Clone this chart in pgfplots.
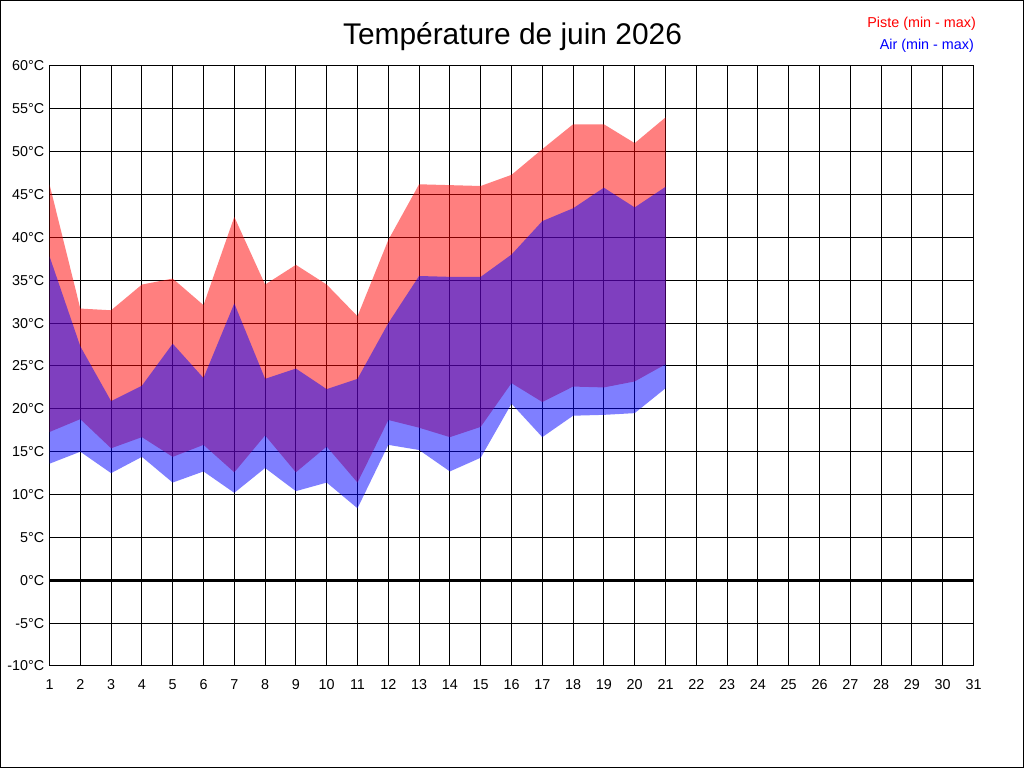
\documentclass[border=0pt]{standalone}
\usepackage{fontspec}
\setmainfont{Liberation Sans}
\usepackage{pgfplots}
\usepackage{pgfplotstable}
\pgfplotsset{compat=1.18}
\usepgfplotslibrary{fillbetween}

\pgfplotstableread{
day pmin pmax amin amax
1  17.3 46.2 13.6 37.8
2  18.8 31.7 15.0 27.3
3  15.4 31.5 12.5 20.9
4  16.7 34.5 14.4 22.7
5  14.4 35.2 11.4 27.6
6  15.8 32.1 12.7 23.6
7  12.6 42.4 10.2 32.3
8  16.9 34.5 13.1 23.5
9  12.6 36.8 10.4 24.7
10 15.6 34.5 11.4 22.3
11 11.4 30.8 8.4  23.5
12 18.7 39.7 15.8 30.0
13 17.8 46.2 15.2 35.5
14 16.7 46.1 12.7 35.4
15 17.9 46.0 14.3 35.4
16 23.0 47.3 20.6 38.0
17 20.8 50.3 16.7 41.9
18 22.6 53.2 19.2 43.4
19 22.5 53.2 19.3 45.8
20 23.2 51.0 19.5 43.5
21 25.2 54.0 22.4 45.9
}\data

\begin{document}
\begin{tikzpicture}
\draw[line width=1bp] (0.5bp,0.5bp) rectangle (1023.5bp,767.5bp);
\begin{axis}[
  at={(49.5bp,102bp)}, anchor=south west,
  scale only axis, width=924bp, height=600bp,
  xmin=1, xmax=31, ymin=-10, ymax=60,
  xtick={1,...,31}, ytick={-10,-5,...,60},
  xticklabels={1,2,3,4,5,6,7,8,9,10,11,12,13,14,15,16,17,18,19,20,21,22,23,24,25,26,27,28,29,30,31},
  yticklabels={-10°C,-5°C,0°C,5°C,10°C,15°C,20°C,25°C,30°C,35°C,40°C,45°C,50°C,55°C,60°C},
  every tick label/.append style={font=\fontsize{14.4}{16}\selectfont},
  xticklabel style={anchor=north, inner sep=0pt, yshift=-13bp},
  yticklabel style={anchor=east, inner sep=0pt, xshift=-5bp},
  major tick length=0pt,
  grid=major,
  major grid style={black, line width=1bp},
  axis line style={black, line width=1bp},
]
\addplot[name path=pmax, draw=none, forget plot] table[x=day, y=pmax] {\data};
\addplot[name path=pmin, draw=none, forget plot] table[x=day, y=pmin] {\data};
\addplot[name path=amax, draw=none, forget plot] table[x=day, y=amax] {\data};
\addplot[name path=amin, draw=none, forget plot] table[x=day, y=amin] {\data};
\addplot[fill=red, fill opacity=0.5, draw=none, forget plot] fill between[of=pmax and pmin];
\addplot[fill=blue, fill opacity=0.5, draw=none, forget plot] fill between[of=amax and amin];
\addplot[black, line width=3bp, forget plot] coordinates {(1,0) (31,0)};
\end{axis}
\node[anchor=base, inner sep=0pt, font=\fontsize{30}{34}\selectfont] at (512.5bp,723bp) {Température de juin 2026};
\node[anchor=base east, inner sep=0pt, text=red, font=\fontsize{14.4}{16}\selectfont] at (976bp,740.5bp) {Piste (min - max)};
\node[anchor=base east, inner sep=0pt, text=blue, font=\fontsize{14.4}{16}\selectfont] at (974bp,718bp) {Air (min - max)};
\end{tikzpicture}
\end{document}
